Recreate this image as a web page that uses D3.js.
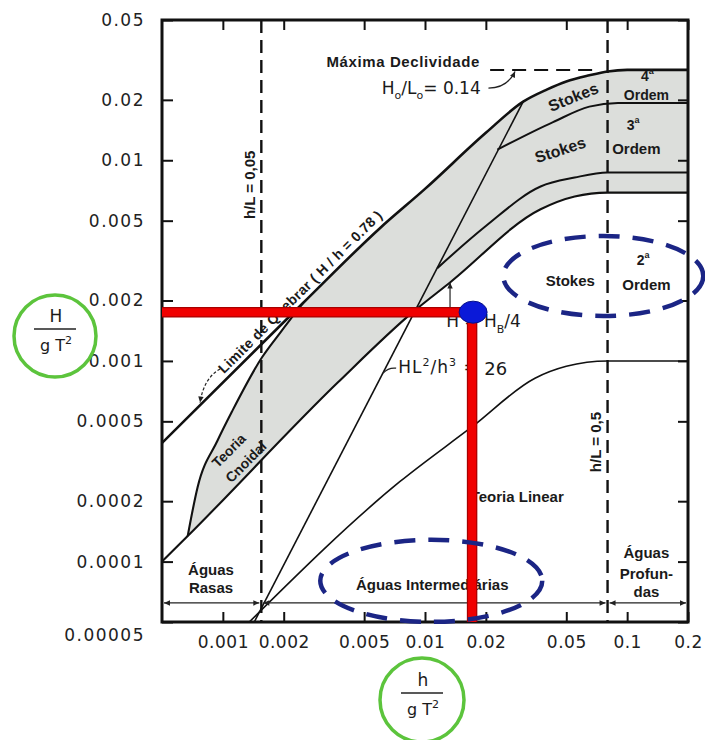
<!DOCTYPE html>
<html>
<head>
<meta charset="utf-8">
<script src="https://cdn.jsdelivr.net/npm/d3@7"></script>
<style>
  body { margin: 0; background: #fff; }
  svg { display: block; font-family: "Liberation Sans", Arial, sans-serif; }
  .tick text { font-family: "DejaVu Sans", sans-serif; font-size: 17px; fill: #222; }
  .y-axis .tick text { letter-spacing: 1.5px; }
  .x-axis .tick text { letter-spacing: 0.5px; }
  .lbl { font-weight: bold; font-size: 15px; fill: #1a1a1a; }
  .num { font-family: "DejaVu Sans", sans-serif; fill: #1a1a1a; }
</style>
</head>
<body>
<svg id="chart" width="705" height="740"></svg>
<script>
// eixo x: h/gT^2 , eixo y: H/gT^2 (log-log)
const xTicks = [0.001, 0.002, 0.005, 0.01, 0.02, 0.05, 0.1, 0.2];
const xTickLabels = ["0.001", "0.002", "0.005", "0.01", "0.02", "0.05", "0.1", "0.2"];
const yTicks = [0.00005, 0.0001, 0.0002, 0.0005, 0.001, 0.002, 0.005, 0.01, 0.02, 0.05];
const yTickLabels = ["0.00005", "0.0001", "0.0002", "0.0005", "0.001", "0.002", "0.005", "0.01", "0.02", "0.05"];

// limite de quebra (H/h = 0.78 ... H0/L0 = 0.14)
const breaking = [[0.0005, 0.00039], [0.0025, 0.00195], [0.006, 0.0046], [0.01, 0.0072], [0.02, 0.0137],
                  [0.0306, 0.0196], [0.04, 0.0225], [0.05, 0.0247], [0.065, 0.0265], [0.08, 0.0277],
                  [0.1, 0.0282], [0.2, 0.0282]];
// H = Hb/4
const quarter = [[0.0005, 0.0001], [0.00067, 0.000134], [0.0037, 0.00078], [0.0087, 0.00175], [0.0133, 0.00246],
                 [0.0373, 0.0057], [0.055, 0.0066], [0.08, 0.0069], [0.2, 0.0069]];
// limite esquerdo da teoria cnoidal
const cnoidalEdge = [[0.00067, 0.000134], [0.00075, 0.000235], [0.00094, 0.0004], [0.00111, 0.00056],
                     [0.00156, 0.00104], [0.00192, 0.00138], [0.0025, 0.00195]];
// HL^2/h^3 = 26
const ursell = [[0.00143, 0.00005], [0.0306, 0.0196]];
// Stokes 4a / 3a ordem
const stokes43 = [[0.0228, 0.0113], [0.043, 0.0155], [0.065, 0.0185], [0.09, 0.0193], [0.2, 0.0193]];
// Stokes 3a / 2a ordem
const stokes32 = [[0.0115, 0.0029], [0.02, 0.0047], [0.0373, 0.0074], [0.055, 0.0082], [0.08, 0.0087], [0.2, 0.0087]];
// Stokes 2a ordem / teoria linear
const linearLimit = [[0.00135, 0.00005], [0.0075, 0.00025], [0.0171, 0.00047], [0.035, 0.00082],
                     [0.05, 0.00094], [0.08, 0.001], [0.2, 0.001]];
const depthLimits = [0.00155, 0.08];        // h/L = 0,05 e h/L = 0,5
const maxSteep = [[0.021, 0.0282], [0.07, 0.0282]];
const point = [0.0171, 0.00175];           // ponto marcado (vermelho / azul)

const svg = d3.select("#chart");
const margin = {top: 20, right: 17, bottom: 118, left: 162};
const width = 705 - margin.left - margin.right;
const height = 740 - margin.top - margin.bottom;

const x = d3.scaleLog().domain([0.0005, 0.2]).range([0, width]);
const y = d3.scaleLog().domain([0.00005, 0.05]).range([height, 0]);

const defs = svg.append("defs");
defs.append("clipPath").attr("id", "plot-clip")
    .append("rect").attr("width", width).attr("height", height);
defs.append("marker").attr("id", "arrow")
    .attr("viewBox", "0 0 10 10").attr("refX", 10).attr("refY", 5)
    .attr("markerWidth", 8).attr("markerHeight", 6)
    .attr("markerUnits", "userSpaceOnUse").attr("orient", "auto-start-reverse")
    .append("path").attr("d", "M0,0.5L10,5L0,9.5Z").attr("fill", "#222");

const g = svg.append("g").attr("transform", "translate(" + margin.left + "," + margin.top + ")");
const plot = g.append("g").attr("clip-path", "url(#plot-clip)");

const line = d3.line()
    .x(function(d){ return x(d[0]); })
    .y(function(d){ return y(d[1]); })
    .curve(d3.curveMonotoneX);

// zona sombreada (cnoidal + Stokes 3a/4a)
let upper = breaking.filter(function(d){ return d[0] >= cnoidalEdge[cnoidalEdge.length - 1][0]; });
let lower = quarter.filter(function(d){ return d[0] >= cnoidalEdge[0][0]; }).reverse();
plot.append("path")
    .attr("d", line(cnoidalEdge) + line(upper).replace(/^M/, "L") + line(lower).replace(/^M/, "L") + "Z")
    .attr("fill", "#dcdedb");

// linhas tracejadas h/L
plot.selectAll(".depth").data(depthLimits).join("line")
    .attr("class", "depth")
    .attr("x1", function(d){ return x(d); }).attr("x2", function(d){ return x(d); })
    .attr("y1", 0).attr("y2", height)
    .attr("stroke", "#111").attr("stroke-width", 2.4).attr("stroke-dasharray", "13 7");

// curvas
let curves = [
    {data: breaking, w: 2.6}, {data: quarter, w: 2.1}, {data: cnoidalEdge, w: 2.1},
    {data: stokes43, w: 2}, {data: stokes32, w: 2}, {data: ursell, w: 1.6}, {data: linearLimit, w: 1.6}
];
plot.selectAll(".curve").data(curves).join("path")
    .attr("class", "curve")
    .attr("d", function(c){ return line(c.data); })
    .attr("fill", "none").attr("stroke", "#111")
    .attr("stroke-width", function(c){ return c.w; });

g.append("path").attr("d", line(maxSteep))
    .attr("fill", "none").attr("stroke", "#111").attr("stroke-width", 2).attr("stroke-dasharray", "14 8");

// textos
function label(txt, xv, yv, rot, cls){
    let t = g.append("text")
        .attr("class", cls || "lbl")
        .attr("text-anchor", "middle").attr("dominant-baseline", "central")
        .attr("transform", "translate(" + x(xv) + "," + y(yv) + ")" + (rot ? " rotate(" + rot + ")" : ""));
    t.text(txt);
    return t;
}
function ordinal(n, xv, yv){
    let t = label(n, xv, yv).style("font-size", "14px");
    t.append("tspan").attr("dy", -5).style("font-size", "9px").text("a");
}

label("Máxima Declividade", 0.0078, 0.031).style("letter-spacing", "0.6px");
let ratio = g.append("text").attr("class", "num")
    .attr("x", x(0.01074)).attr("y", y(0.0214)).attr("text-anchor", "middle").style("font-size", "17px");
ratio.append("tspan").text("H");
ratio.append("tspan").attr("dy", 5).style("font-size", "11px").text("o");
ratio.append("tspan").attr("dy", -5).text("/L");
ratio.append("tspan").attr("dy", 5).style("font-size", "11px").text("o");
ratio.append("tspan").attr("dy", -5).text("= 0.14");
g.append("path")
    .attr("d", "M" + x(0.0206) + "," + y(0.0229) + "Q" + x(0.0255) + "," + y(0.0229) + " " + x(0.0279) + "," + y(0.0277))
    .attr("fill", "none").attr("stroke", "#222").attr("stroke-width", 1.2).attr("marker-end", "url(#arrow)");

label("h/L = 0,05", 0.00136, 0.00754, -90);
label("h/L = 0,5", 0.0696, 0.000394, -90);

g.append("text").attr("class", "lbl").style("font-size", "14px").style("letter-spacing", "0.3px")
    .attr("text-anchor", "middle")
    .attr("transform", "translate(" + x(0.00261) + "," + y(0.00204) + ") rotate(-44.8)")
    .attr("y", -5)
    .text("Limite de Quebrar ( H / h = 0.78 )");
g.append("path")
    .attr("d", "M" + x(0.000969) + "," + y(0.000912) + "Q" + x(0.000806) + "," + y(0.000822) + " " + x(0.000771) + "," + y(0.00062))
    .attr("fill", "none").attr("stroke", "#222").attr("stroke-width", 1.2)
    .attr("stroke-dasharray", "3 2").attr("marker-end", "url(#arrow)");

label("Teoria", 0.00107, 0.000358, -45).style("font-size", "14px");
label("Cnoidal", 0.0013, 0.000314, -45).style("font-size", "14px");

label("Stokes", 0.0542, 0.02066, -22).style("font-size", "16px");
label("Stokes", 0.0467, 0.01125, -18).style("font-size", "16px");
ordinal("4", 0.126, 0.0262);
label("Ordem", 0.1245, 0.0212).style("font-size", "14px");
ordinal("3", 0.107, 0.0150);
label("Ordem", 0.111, 0.0115).style("font-size", "15px");
label("Stokes", 0.0523, 0.00253).style("font-size", "15px");
ordinal("2", 0.120, 0.00318);
label("Ordem", 0.1245, 0.00239).style("font-size", "15px");

// H = Hb/4
let hb = g.append("text").attr("class", "num").style("font-size", "17px")
    .attr("x", x(0.01273)).attr("y", y(0.001477));
hb.append("tspan").text("H = H");
hb.append("tspan").attr("dy", 6).style("font-size", "11px").text("B");
hb.append("tspan").attr("dy", -6).text("/4");
g.append("line")
    .attr("x1", x(0.0133)).attr("x2", x(0.0133))
    .attr("y1", y(0.00184)).attr("y2", y(0.00246))
    .attr("stroke", "#222").attr("stroke-width", 1.2).attr("marker-end", "url(#arrow)");

// HL2/h3 = 26
let ur = g.append("text").attr("class", "num").style("font-size", "17px").style("letter-spacing", "1px")
    .attr("x", x(0.00737)).attr("y", y(0.000871));
ur.append("tspan").text("HL");
ur.append("tspan").attr("dy", -7).style("font-size", "11px").text("2");
ur.append("tspan").attr("dy", 7).text("/h");
ur.append("tspan").attr("dy", -7).style("font-size", "11px").text("3");
ur.append("tspan").attr("dy", 7).text(" = ");
g.append("text").attr("class", "num").style("font-size", "18px")
    .attr("x", x(0.01964)).attr("y", y(0.000851)).text("26");
g.append("path")
    .attr("d", "M" + x(0.0062) + "," + y(0.00087) + "Q" + x(0.0066) + "," + y(0.00093) + " " + x(0.0072) + "," + y(0.00092))
    .attr("fill", "none").attr("stroke", "#222").attr("stroke-width", 1.2);

label("Teoria Linear", 0.0286, 0.00021);
label("Águas", 0.000874, 0.000091);
label("Rasas", 0.000874, 0.000074);
label("Águas Intermediárias", 0.01086, 0.0000766);
label("Águas", 0.1245, 0.0001104);
label("Profun-", 0.1245, 0.0000869);
label("das", 0.1245, 0.0000706);

// setas de profundidade
let bounds = [x.domain()[0]].concat(depthLimits, [x.domain()[1]]);
g.selectAll(".span").data(d3.pairs(bounds)).join("line")
    .attr("class", "span")
    .attr("x1", function(d){ return x(d[0]) + 2; }).attr("x2", function(d){ return x(d[1]) - 2; })
    .attr("y1", y(0.0000622)).attr("y2", y(0.0000622))
    .attr("stroke", "#222").attr("stroke-width", 1.3)
    .attr("marker-start", "url(#arrow)").attr("marker-end", "url(#arrow)");

// eixos
function styleAxis(a){
    a.select(".domain").remove();
    a.selectAll(".tick line").attr("stroke", "#111").attr("stroke-width", 2);
}
g.append("g").attr("class", "y-axis")
    .call(d3.axisLeft(y).tickValues(yTicks)
        .tickFormat(function(d){ return yTickLabels[yTicks.indexOf(d)]; })
        .tickSize(-11).tickPadding(17))
    .call(styleAxis)
    .selectAll(".tick text").filter(function(d){ return d === yTicks[0]; }).attr("dy", "1.08em");
g.append("g").attr("class", "x-axis")
    .attr("transform", "translate(0," + height + ")")
    .call(d3.axisBottom(x).tickValues(xTicks)
        .tickFormat(function(d){ return xTickLabels[xTicks.indexOf(d)]; })
        .tickSize(-10).tickPadding(14))
    .call(styleAxis);
g.append("g")
    .call(d3.axisTop(x).tickValues(xTicks).tickFormat(function(){ return ""; }).tickSize(-10))
    .call(styleAxis);
g.append("g").attr("transform", "translate(" + width + ",0)")
    .call(d3.axisRight(y).tickValues(yTicks).tickFormat(function(){ return ""; }).tickSize(-10))
    .call(styleAxis);
g.append("rect").attr("width", width).attr("height", height)
    .attr("fill", "none").attr("stroke", "#111").attr("stroke-width", 3);

// marcações sobrepostas
let redPath = [
    [[x.domain()[0], point[1]], point],
    [point, [point[0], y.domain()[0]]]
];
let redLine = d3.line().x(function(d){ return x(d[0]); }).y(function(d){ return y(d[1]); });
g.selectAll(".red-edge").data(redPath).join("path")
    .attr("d", redLine).attr("stroke", "#a80000").attr("stroke-width", 10.5).attr("fill", "none");
g.selectAll(".red").data(redPath).join("path")
    .attr("class", "red")
    .attr("d", redLine).attr("stroke", "#f00000").attr("stroke-width", 8).attr("fill", "none");
g.append("ellipse")
    .attr("cx", x(point[0]) + 1).attr("cy", y(point[1]))
    .attr("rx", 14).attr("ry", 11)
    .attr("fill", "#0b19d8").attr("stroke", "#061088").attr("stroke-width", 1);

let navy = "#1b2585";
g.append("ellipse")
    .attr("cx", x(0.0762)).attr("cy", y(0.00265)).attr("rx", 100).attr("ry", 40)
    .attr("fill", "none").attr("stroke", navy).attr("stroke-width", 4.5).attr("stroke-dasharray", "21 13");
g.append("ellipse")
    .attr("cx", x(0.01074)).attr("cy", y(0.0000802)).attr("rx", 111).attr("ry", 41)
    .attr("fill", "none").attr("stroke", navy).attr("stroke-width", 4.5).attr("stroke-dasharray", "21 13");

// rótulos dos eixos (círculos verdes)
let green = "#5cc43c";
function fraction(cx, cy, r, top){
    svg.append("circle").attr("cx", cx).attr("cy", cy).attr("r", r)
        .attr("fill", "none").attr("stroke", green).attr("stroke-width", 3.5);
    svg.append("text").attr("class", "num").attr("x", cx + 1).attr("y", cy - 14)
        .attr("text-anchor", "middle").style("font-size", "17px").text(top);
    svg.append("line").attr("x1", cx - 21).attr("x2", cx + 21).attr("y1", cy - 7).attr("y2", cy - 7)
        .attr("stroke", "#222").attr("stroke-width", 1.6);
    let b = svg.append("text").attr("class", "num").attr("x", cx + 1).attr("y", cy + 15)
        .attr("text-anchor", "middle").style("font-size", "16px");
    b.append("tspan").text("g T");
    b.append("tspan").attr("dy", -7).style("font-size", "11px").text("2");
}
fraction(55, 336, 41, "H");
fraction(422, 700, 42, "h");
</script>
</body>
</html>
